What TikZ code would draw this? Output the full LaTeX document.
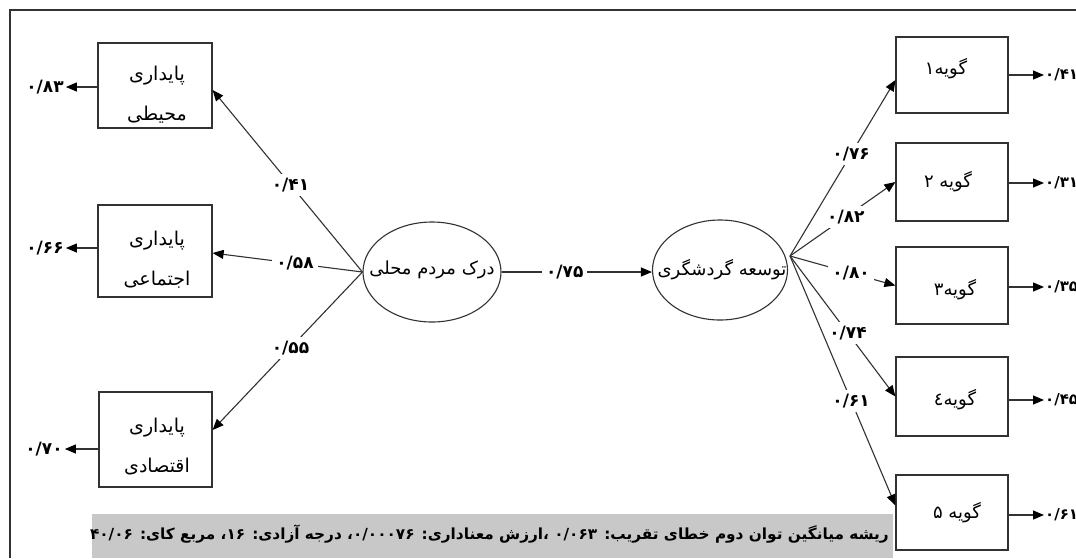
\documentclass[tikz,border=0pt]{standalone}
\usepackage{fontspec}
\usetikzlibrary{shapes.geometric,arrows.meta,calc}
\TeXXeTstate=1
\newfontfamily\fa[Script=Arabic]{DejaVu Sans}
\definecolor{barg}{RGB}{200,200,200}
\definecolor{ink}{RGB}{50,50,50}
\begin{document}
\begin{tikzpicture}[x=1pt,y=-1pt,
  every node/.style={inner sep=0pt},
  box/.style={draw=ink, line width=1.2pt},
  oval/.style={ellipse, draw=ink, line width=1.1pt},
  txt/.style={font=\fa\fontsize{19}{40}\selectfont, align=center},
  gtxt/.style={font=\fa\fontsize{18}{22}\selectfont},
  num/.style={font=\fa\bfseries\fontsize{17}{20}\selectfont, inner sep=2pt},
  numw/.style={num, fill=white, inner sep=4pt},
  lnk/.style={draw=ink, line width=1.1pt},
  arr/.style={lnk, -{Triangle[length=11pt,width=9pt,color=black]}},
]
\useasboundingbox (0,0) rectangle (1076,558);
\fill[white] (0,0) rectangle (1076,558);
% frame
\draw[draw=ink, line width=1.2pt] (10,558) -- (10,10) -- (1076,10);
% bottom bar
\fill[barg] (92,514) rectangle (893,558);
\node[font=\fa\bfseries\fontsize{15.3}{18}\selectfont, anchor=east] (note) at (889,534)
 {\beginR ریشه میانگین توان دوم خطای تقریب: ۰/۰۶۳ ،ارزش معناداری: ۰/۰۰۰۷۶\kern0pt، درجه آزادی: ۱۶\kern0pt، مربع کای: ۴۰/۰۶\endR};

% left boxes
\node[box, minimum width=114pt, minimum height=85pt] (b1) at (155,85.5) {};
\node[box, minimum width=114pt, minimum height=92pt] (b2) at (155,251) {};
\node[box, minimum width=113pt, minimum height=95pt] (b3) at (155.5,439.5) {};
\node[txt] (b1t) at (157,95) {پایداری\\محیطی};
\node[txt] (b2t) at (157,260) {پایداری\\اجتماعی};
\node[txt] (b3t) at (157,447) {پایداری\\اقتصادی};

% left outputs
\node[num] (l1) at (45,87) {۰/۸۳};
\node[num] (l2) at (45,248) {۰/۶۶};
\node[num] (l3) at (44,449) {۰/۷۰};
\draw[arr] (b1.west |- l1) -- (l1.east);
\draw[arr] (b2.west |- l2) -- (l2.east);
\draw[arr] (b3.west |- l3) -- (l3.east);

% ellipses
\node[oval, minimum width=138pt, minimum height=100pt] (e1) at (432,272) {};
\node[oval, minimum width=135pt, minimum height=100pt] (e2) at (720,270) {};
\node[font=\fa\fontsize{18}{22}\selectfont] (e1t) at (432,270) {\beginR درک مردم محلی\endR};
\node[font=\fa\fontsize{18}{22}\selectfont] (e2t) at (722,270) {\beginR توسعه گردشگری\endR};
\coordinate (r) at (790,256);

% left links
\draw[arr] (e1.west) -- node[numw, pos=0.48] (k1) {۰/۴۱} ($(b1.east)+(0,4.5)$);
\draw[arr] (e1.west) -- node[numw, pos=0.45] (k2) {۰/۵۸} ($(b2.east)+(0,2)$);
\draw[arr] (e1.west) -- node[numw, pos=0.48] (k3) {۰/۵۵} ($(b3.east)+(0,-9.5)$);

% middle link
\draw[arr] (e1.east) -- node[numw, pos=0.42] (m) {۰/۷۵} (e2.west |- e1.east);

% right boxes
\node[box, minimum width=112pt, minimum height=76pt] (g1) at (952,75) {};
\node[box, minimum width=112pt, minimum height=78pt] (g2) at (952,182) {};
\node[box, minimum width=112pt, minimum height=77pt] (g3) at (952,285.5) {};
\node[box, minimum width=112pt, minimum height=79pt] (g4) at (952,396.5) {};
\node[box, minimum width=112pt, minimum height=75pt] (g5) at (952,512.5) {};
\node[gtxt] (g1t) at (946,69) {گویه۱};
\node[gtxt] (g2t) at (948,182) {\beginR گویه ۲\endR};
\node[gtxt] (g3t) at (955,290) {گویه۳};
\node[gtxt] (g4t) at (955,400) {گویه٤};
\node[gtxt] (g5t) at (957,513) {\beginR گویه ۵\endR};

% right links
\draw[arr] (r) -- node[numw, pos=0.58] (n1) {۰/۷۶} ($(g1.west)+(0,5)$);
\draw[arr] (r) -- node[numw, pos=0.53] (n2) {۰/۸۲} (g2.west);
\draw[arr] (r) -- node[numw, pos=0.58] (n3) {۰/۸۰} (g3.west);
\draw[arr] (r) -- node[numw, pos=0.55] (n4) {۰/۷۴} (g4.west);
\draw[arr] (r) -- node[numw, pos=0.58] (n5) {۰/۶۱} ($(g5.west)+(0,-7)$);

% right outputs
\tikzset{onum/.style={num, anchor=west, inner sep=1pt, font=\fa\bfseries\fontsize{15}{18}\selectfont}}
\node[onum] (o1) at (1044,75) {۰/۴۱};
\node[onum] (o2) at (1044,183) {۰/۳۱};
\node[onum] (o3) at (1044,287) {۰/۳۵};
\node[onum] (o4) at (1044,400) {۰/۴۵};
\node[onum] (o5) at (1044,515) {۰/۶۱};
\draw[arr] (g1.east |- o1.west) -- (o1.west);
\draw[arr] (g2.east |- o2.west) -- (o2.west);
\draw[arr] (g3.east |- o3.west) -- (o3.west);
\draw[arr] (g4.east |- o4.west) -- (o4.west);
\draw[arr] (g5.east |- o5.west) -- (o5.west);
\end{tikzpicture}
\end{document}
